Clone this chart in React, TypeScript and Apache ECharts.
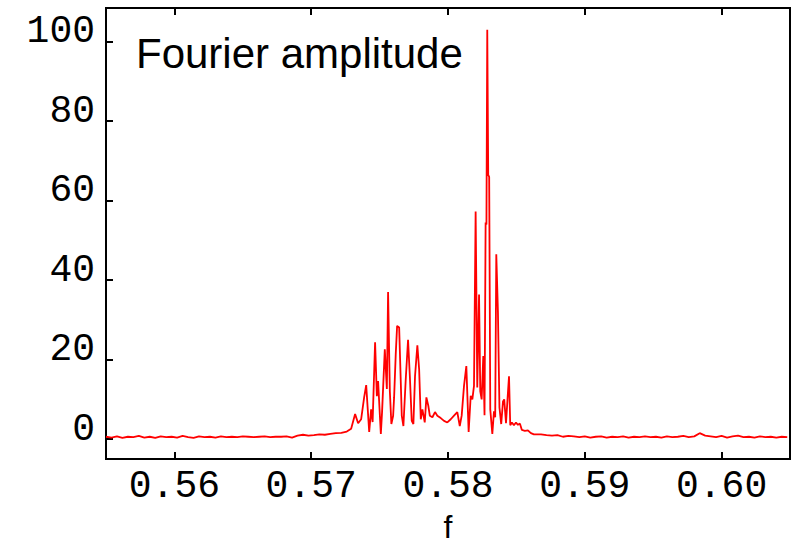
import React, { useEffect, useRef } from "react";
import * as echarts from "echarts";

const xTicks = [0.56, 0.57, 0.58, 0.59, 0.6];
const yTicks = [0, 20, 40, 60, 80, 100];

const freq = [
  0.555, 0.5554, 0.5558, 0.5562, 0.5566, 0.557, 0.5574, 0.5578, 0.5582, 0.5586,
  0.559, 0.5594, 0.5598, 0.5602, 0.5606, 0.561, 0.5614, 0.5618, 0.5622, 0.5626,
  0.563, 0.5634, 0.5638, 0.5642, 0.5646, 0.565, 0.5654, 0.5658, 0.5662, 0.5666,
  0.567, 0.5674, 0.5678, 0.5682, 0.5686, 0.569, 0.5694, 0.5698, 0.5702, 0.5706,
  0.571, 0.5714, 0.5718, 0.5722, 0.5726,
  0.57292, 0.57321, 0.57343, 0.57365, 0.57387, 0.57402, 0.57424, 0.57438, 0.57449, 0.57467,
  0.5748, 0.57489, 0.57509, 0.57518, 0.57538, 0.57553, 0.57562, 0.57575, 0.57586, 0.57599,
  0.57606, 0.57618, 0.57628, 0.57643, 0.5765, 0.57662, 0.57674, 0.57691, 0.57708, 0.57721,
  0.57735, 0.57747, 0.57759, 0.57776, 0.57789, 0.57801, 0.57813, 0.5783, 0.57842, 0.57856,
  0.57867, 0.57886, 0.57905, 0.57922, 0.57947, 0.57971, 0.57995, 0.5802, 0.58044, 0.58068,
  0.58086, 0.581, 0.58117, 0.58134, 0.58151, 0.58166, 0.58178, 0.5819, 0.58202, 0.58214,
  0.58227, 0.58236, 0.58246, 0.58258, 0.58267, 0.58275, 0.58281, 0.58287, 0.58294, 0.58301,
  0.58309, 0.58324, 0.58336, 0.58345, 0.58353, 0.58365, 0.58376, 0.58389, 0.58402, 0.58411,
  0.58424, 0.58435, 0.58446, 0.58455, 0.58467, 0.58482, 0.58497, 0.58511, 0.58526, 0.5854,
  0.58562, 0.58584, 0.58606, 0.58628,
  0.5868, 0.5872, 0.5876, 0.588, 0.5884, 0.5888, 0.5892, 0.5896, 0.59, 0.5904,
  0.5908, 0.5912, 0.5916, 0.592, 0.5924, 0.5928, 0.5932, 0.5936, 0.594, 0.5944,
  0.5948, 0.5952, 0.5956, 0.596, 0.5964, 0.5968, 0.5972, 0.5976, 0.598, 0.5984,
  0.5988, 0.5992, 0.5996, 0.6, 0.6004, 0.6008, 0.6012, 0.6016, 0.602, 0.6024,
  0.6028, 0.6032, 0.6036, 0.604, 0.6044, 0.6048,
];

const amp = [
  0.6, 0.4, 0.7, 0.3, 0.6, 0.5, 0.8, 0.4, 0.6, 0.3,
  0.7, 0.5, 0.6, 0.4, 0.8, 0.5, 0.3, 0.7, 0.5, 0.6,
  0.4, 0.7, 0.5, 0.6, 0.5, 0.7, 0.6, 0.5, 0.6, 0.7,
  0.5, 0.6, 0.6, 0.7, 0.4, 0.9, 1.1, 0.9, 1.0, 1.2,
  1.1, 1.3, 1.5, 1.6, 1.9,
  2.6, 6.3, 4.0, 5.0, 10.5, 13.6, 1.8, 7.5, 4.3, 24.4,
  10.8, 14.6, 1.3, 6.8, 22.6, 12.6, 37.0, 12.0, 3.8, 5.9,
  10.5, 21.4, 28.5, 28.1, 20.0, 5.9, 3.3, 15.0, 25.0, 15.9,
  4.6, 3.8, 15.9, 23.6, 17.6, 5.0, 7.5, 4.2, 10.5, 8.4,
  5.9, 5.5, 6.8, 5.9, 5.3, 4.6, 4.2, 5.0, 5.9, 6.8,
  3.3, 5.9, 13.4, 18.4, 1.8, 10.9, 10.0, 13.4, 57.3, 13.0,
  36.4, 12.0, 10.0, 20.9, 6.0, 54.5, 54.0, 103.0, 66.5, 66.0,
  7.5, 1.3, 7.0, 5.5, 46.5, 32.0, 8.0, 3.8, 9.5, 10.0,
  4.0, 10.0, 15.8, 3.5, 4.2, 3.5, 4.2, 3.6, 3.9, 2.3,
  2.1, 2.2, 1.5, 1.2,
  1.2, 1.0, 0.9, 1.0, 0.6, 0.8, 0.7, 0.5, 0.7, 0.4,
  0.6, 0.7, 0.4, 0.6, 0.5, 0.7, 0.4, 0.6, 0.5, 0.7,
  0.5, 0.6, 0.4, 0.7, 0.5, 0.6, 0.8, 0.5, 0.7, 1.5,
  0.9, 0.7, 0.5, 0.8, 0.4, 0.7, 0.9, 0.5, 0.6, 0.4,
  0.7, 0.5, 0.6, 0.4, 0.6, 0.5,
];

const tickFont = "Liberation Mono";

export default function App() {
  const ref = useRef<HTMLDivElement>(null);
  useEffect(() => {
    if (!ref.current) return;
    const chart = echarts.init(ref.current, null, { renderer: "svg" });
    const data = freq.map((f, i) => [f, amp[i]]);
    chart.setOption({
      animation: false,
      backgroundColor: "#ffffff",
      title: {
        text: "Fourier amplitude",
        left: 131,
        top: 27,
        textStyle: {
          fontFamily: "Liberation Sans",
          fontSize: 42,
          fontWeight: "normal",
          color: "#000",
        },
      },
      grid: {
        left: 106,
        top: 8,
        right: 9,
        bottom: 85,
        show: true,
        borderColor: "#000",
        borderWidth: 2,
        backgroundColor: "transparent",
        containLabel: false,
        outerBoundsMode: "none",
      },
      xAxis: [
        {
          type: "value",
          min: 0.555,
          max: 0.605,
          name: "f",
          nameLocation: "middle",
          nameGap: 52,
          nameTextStyle: { fontFamily: "Liberation Sans", fontSize: 32, color: "#000" },
          axisLine: { show: true, onZero: false, lineStyle: { color: "#000", width: 2 } },
          axisTick: { show: true, inside: true, length: 7, customValues: xTicks, lineStyle: { color: "#000", width: 2 } },
          axisLabel: {
            show: true,
            customValues: xTicks,
            formatter: (v: number) => v.toFixed(2),
            fontFamily: tickFont,
            fontSize: 38,
            color: "#000",
            margin: 8,
          },
          splitLine: { show: false },
        },
        {
          type: "value",
          position: "top",
          min: 0.555,
          max: 0.605,
          axisLine: { show: true, onZero: false, lineStyle: { color: "#000", width: 2 } },
          axisTick: { show: true, inside: true, length: 7, customValues: xTicks, lineStyle: { color: "#000", width: 2 } },
          axisLabel: { show: false },
          splitLine: { show: false },
        },
      ],
      yAxis: {
        type: "value",
        min: -5,
        max: 108.5,
        axisLine: { show: true, onZero: false, lineStyle: { color: "#000", width: 2 } },
        axisTick: { show: true, inside: true, length: 7, customValues: yTicks, lineStyle: { color: "#000", width: 2 } },
        axisLabel: {
          show: true,
          customValues: yTicks,
          fontFamily: tickFont,
          fontSize: 38,
          color: "#000",
          margin: 11,
          verticalAlign: "bottom",
          lineHeight: 20,
        },
        splitLine: { show: false },
      },
      series: [
        {
          type: "line",
          data,
          xAxisIndex: 0,
          showSymbol: false,
          symbol: "none",
          lineStyle: { color: "#ff0000", width: 1.8 },
        },
      ],
    });
    return () => chart.dispose();
  }, []);
  return <div ref={ref} style={{ width: 799, height: 544, position: "absolute", left: 0, top: 0 }} />;
}
